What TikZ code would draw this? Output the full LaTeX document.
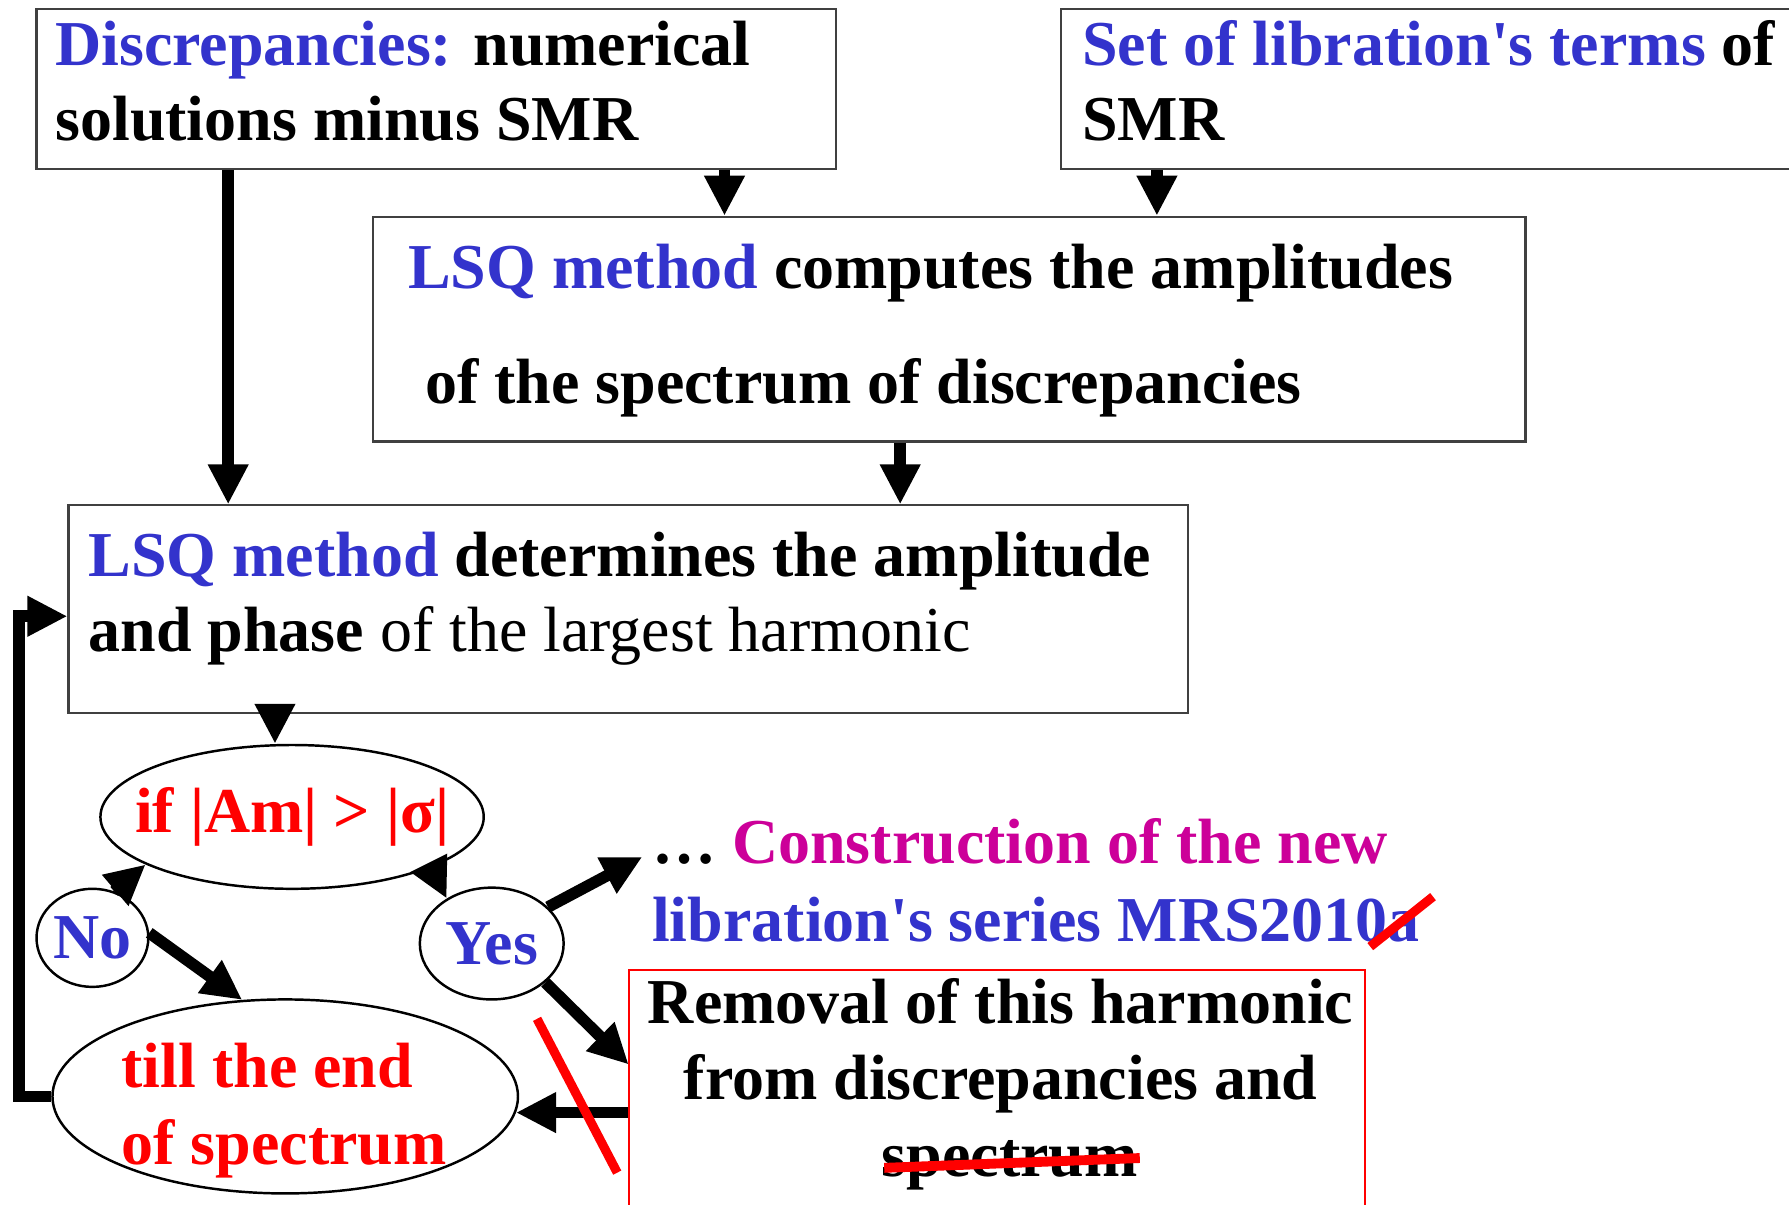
\documentclass[tikz,border=0pt]{standalone}
\usepackage{fontspec}
\setmainfont{Liberation Serif}
\usepackage{tikz}
\usetikzlibrary{positioning, arrows.meta, shapes.geometric, calc, fit}

\definecolor{lsqblue}{RGB}{51,51,204}
\definecolor{newmagenta}{RGB}{204,0,153}

\begin{document}
\begin{tikzpicture}[
        x=0.11409mm,
        y=-0.11409mm,
        font=\fontsize{18.2}{21.6}\selectfont\bfseries,
        box/.style={
            draw=black!75,
            line width=0.6pt,
            inner sep=0pt
        },
        redbox/.style={
            draw=red,
            line width=0.6pt,
            inner sep=0pt
        },
        oval/.style={
            ellipse,
            draw,
            line width=0.7pt,
            inner sep=0pt
        },
        txt/.style={
            inner sep=0pt,
            anchor=base west
        },
        ctxt/.style={
            inner sep=0pt,
            anchor=base
        },
        flow/.style={
            line width=3.3pt,
            -{Triangle[length=4mm, width=3.8mm]}
        },
        strike/.style={
            red,
            line width=2.6pt
        }
    ]

    \useasboundingbox (0,0) rectangle (1568,1056);

    % --------------------------------------------------------
    % Boxes
    % --------------------------------------------------------

    \node[box, fit={(32,8) (733,148)}] (disc) {};
    \node[box, fit={(930,8) (1600,148)}] (libset) {};
    \node[box, fit={(327,190) (1337,387)}] (lsqcomp) {};
    \node[box, fit={(60,443) (1041,625)}] (lsqdet) {};
    \node[redbox, fit={(551,850) (1196,1100)}] (removal) {};

    \node[txt] (disctxt1) at (48,57)
        {\textcolor{lsqblue}{Discrepancies:} numerical};
    \node[txt] (disctxt2) at (48,123.5)
        {solutions minus SMR};

    \node[txt] (settxt1) at (948,57)
        {\textcolor{lsqblue}{Set of libration\textquotesingle s terms} of};
    \node[txt] (settxt2) at (948,123.5)
        {SMR};

    \node[txt] (comptxt1) at (357,253)
        {\textcolor{lsqblue}{LSQ method} computes the amplitudes};
    \node[txt] (comptxt2) at (372,354)
        {of the spectrum of discrepancies};

    \node[txt] (dettxt1) at (77,505.4)
        {\textcolor{lsqblue}{LSQ method} determines the amplitude};
    \node[txt] (dettxt2) at (77,571)
        {and phase {\mdseries of the largest harmonic}};

    \node[ctxt] (remtxt1) at (877,897.5) {Removal of this harmonic};
    \node[ctxt] (remtxt2) at (877,964) {from discrepancies and};
    \node[ctxt] (remtxt3) at (885,1031) {spectrum};

    % --------------------------------------------------------
    % Loop ellipses
    % --------------------------------------------------------

    \node[oval, minimum width=38.33mm, minimum height=14.38mm]
        (cond) at (256,716) {};
    \node[ctxt, red] (condtxt) at (256,730) {if |Am| > |σ|};

    \node[oval, minimum width=11.18mm, minimum height=9.81mm, text=lsqblue]
        (no) at (81,822) {No};
    \node[oval, minimum width=14.38mm, minimum height=11.18mm, text=lsqblue]
        (yes) at (431,827) {Yes};

    \node[oval, minimum width=46.55mm, minimum height=19.4mm]
        (till) at (250,961) {};
    \node[txt, red] (tilltxt1) at (106,953) {till the end};
    \node[txt, red] (tilltxt2) at (106,1021) {of spectrum};

    % --------------------------------------------------------
    % New series
    % --------------------------------------------------------

    \node[txt] (constxt1) at (571,756.5)
        {… \textcolor{newmagenta}{Construction of the new}};
    \node[txt, lsqblue] (constxt2) at (571,824.8)
        {libration\textquotesingle s series MRS2010a};

    % --------------------------------------------------------
    % Connectors
    % --------------------------------------------------------

    \coordinate (colA) at (200,0);
    \coordinate (colB) at (635,0);
    \coordinate (colC) at (1014,0);
    \coordinate (colD) at (789,0);
    \coordinate (colE) at (241,0);
    \coordinate (constip) at (563,751);
    \coordinate (remtip) at (551,933);

    \draw[flow] (disc.south -| colA) -- (lsqdet.north -| colA);
    \draw[flow] (disc.south -| colB) -- (lsqcomp.north -| colB);
    \draw[flow] (libset.south -| colC) -- (lsqcomp.north -| colC);
    \draw[flow] (lsqcomp.south -| colD) -- (lsqdet.north -| colD);
    \draw[flow] (lsqdet.south -| colE) -- (cond.north -| colE);

    \draw[flow] (cond.-20) -- (yes.135);
    \draw[flow] (no.65) -- (cond.198);
    \draw[flow] (no.5) -- (till.114);
    \draw[flow] (yes.33) -- (constip);
    \draw[flow] (yes.-36) -- (remtip);
    \draw[flow] (removal.west |- till.-4) -- (till.-4);

    % back to the top of the loop
    \draw[flow] (till.west) -- ++(-28.5,0)
        |- ([yshift=-0.7mm]lsqdet.west);

    % --------------------------------------------------------
    % Red corrections
    % --------------------------------------------------------

    \draw[strike] (470.7,893) -- (541,1027.8);
    \draw[strike] (1201,829.7) -- (1256,785.9);
    \draw[strike, line width=2.8pt] (775,1023.6) -- (999,1015);

\end{tikzpicture}
\end{document}
